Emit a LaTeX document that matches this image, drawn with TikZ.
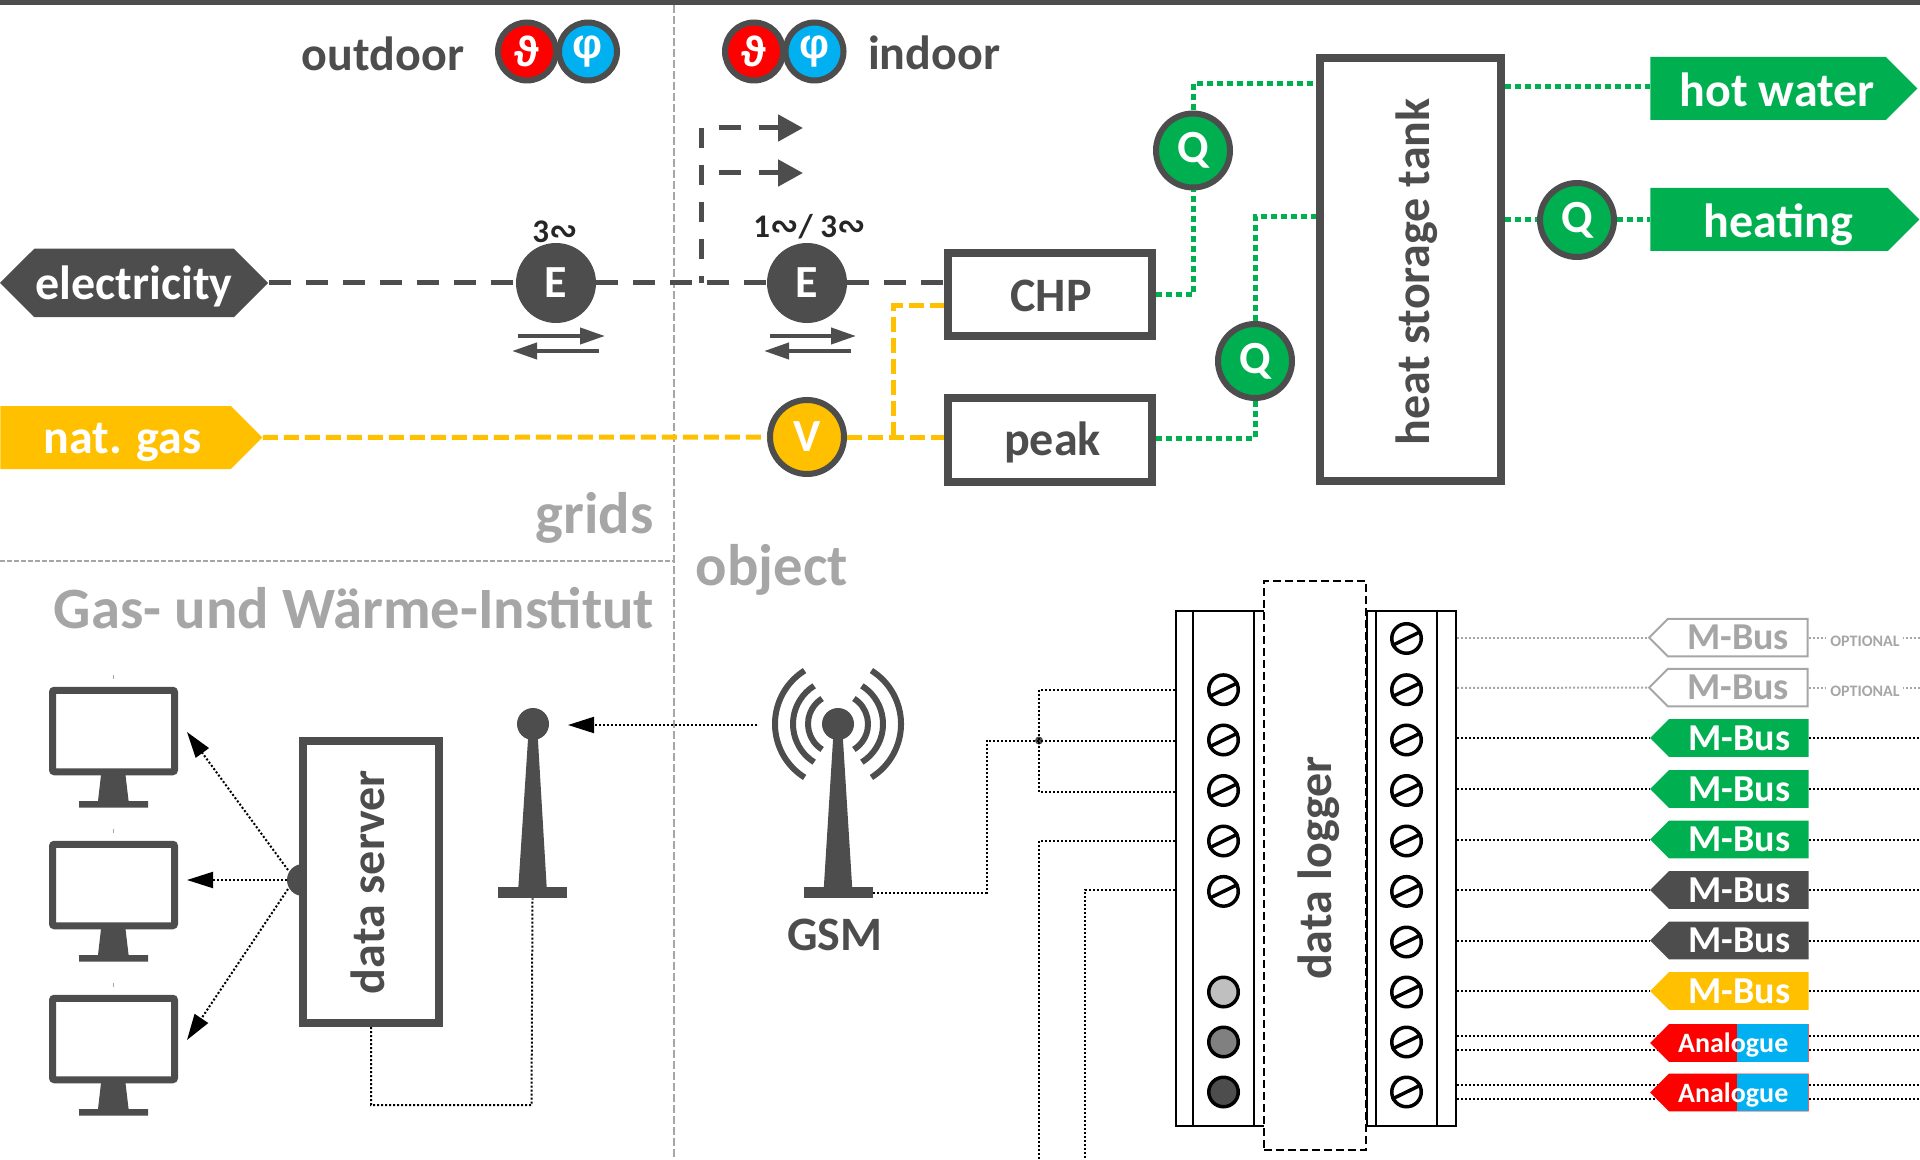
\documentclass[tikz,border=0pt]{standalone}
\usepackage{fontspec}
\setmainfont{Carlito}
\newfontfamily\symfont{DejaVu Sans}
\newfontfamily\greekfont{Liberation Sans}
\usepackage{tikz}
\usetikzlibrary{calc,shapes.geometric,shapes.symbols,arrows.meta,positioning,backgrounds}
\definecolor{cDark}{HTML}{4D4D4D}
\definecolor{cGrey}{HTML}{A6A6A6}
\definecolor{cGreen}{HTML}{00B050}
\definecolor{cYellow}{HTML}{FFC000}
\definecolor{cRed}{HTML}{FF0000}
\definecolor{cBlue}{HTML}{00B0F0}
\newcommand{\phasesign}{{\symfont\fontsize{17}{17}\selectfont ∾}}

\begin{document}
\begin{tikzpicture}[
    x=0.5pt, y=-0.5pt,
    box/.style={rectangle, draw=cDark, line width=4pt, fill=white, inner sep=0pt},
    boxtext/.style={font=\fontsize{24}{24}\selectfont\bfseries, text=cDark, inner sep=0pt},
    head/.style={font=\fontsize{29.3}{29.3}\selectfont\bfseries, text=cGrey, inner sep=0pt},
    phase/.style={font=\fontsize{16.5}{16.5}\selectfont\bfseries, text=black!85, inner sep=0pt},
    meter/.style={circle, draw=cDark, line width=3pt, minimum size=37pt, inner sep=0pt,
                  font=\fontsize{23}{23}\selectfont\bfseries, text=white},
    sensor/.style={circle, draw=cDark, line width=3pt, minimum size=29pt, inner sep=0pt,
                   font=\greekfont\fontsize{21}{21}\selectfont\bfseries, text=white},
    bigtag/.style={signal, signal pointer angle=90, inner sep=0pt, minimum height=31.5pt,
                   text height=19.5pt, text depth=4pt,
                   font=\fontsize{24}{24}\selectfont\bfseries, text=white},
    bustag/.style={signal, signal to=west, signal pointer angle=90, inner sep=0pt, anchor=east,
                   minimum width=79.2pt, minimum height=18.8pt,
                   execute at begin node=\hspace*{0.5pt},
                   font=\fontsize{19}{19}\selectfont\bfseries, text=white},
    anatag/.style={bustag, fill=cRed, font=\fontsize{14}{14}\selectfont\bfseries,
                   text height=9.5pt, text depth=0pt,
                   execute at begin node={}, execute at end node=\hspace*{6.1pt},
                   path picture={\fill[cBlue] (path picture bounding box.north east) rectangle
                                 ([xshift=-36pt]path picture bounding box.south east);}},
    optiontext/.style={font=\fontsize{8}{8}\selectfont\bfseries, text=cGrey, inner sep=0pt},
    screw/.style={circle, draw=black, line width=1.75pt, minimum size=14.75pt, inner sep=0pt},
    strip/.style={rectangle, draw=black, line width=1pt, fill=white, inner sep=0pt,
                  minimum height=257.5pt},
    screen/.style={rectangle, draw=cDark, line width=3.5pt, rounded corners=1pt, fill=white,
                   minimum width=61pt, minimum height=40.75pt, inner sep=0pt},
    wire/.style={black, line width=1pt, dash pattern=on 1pt off 1pt},
    greywire/.style={cGrey, line width=1pt, dash pattern=on 1pt off 1pt},
    heat/.style={cGreen, line width=2.5pt, dash pattern=on 3pt off 2pt},
    gas/.style={cYellow, line width=2.5pt, dash pattern=on 7.5pt off 3pt},
    power/.style={cDark, line width=2.5pt, dash pattern=on 11pt off 7.5pt},
    branch/.style={cDark, line width=2.5pt, dash pattern=on 11pt off 9pt, dash phase=11pt,
                   -{Triangle[length=12.5pt, width=13pt]}},
    flow/.style={cDark, line width=2pt, -{Triangle[length=12.5pt, width=8pt]}},
    signalarrow/.style={wire, -{Triangle[length=13pt, width=8pt]}}
]
\useasboundingbox (0,0) rectangle (1920,1160);

% ================= FRAME =================
\fill[cDark] (0,0) rectangle (1920,5);
\draw[cGrey, line width=1pt, dash pattern=on 4pt off 1.5pt] (673.5,5) -- (673.5,1160);
\draw[cGrey, line width=1pt, dash pattern=on 2.5pt off 1pt] (0,561) -- (673.5,561);

\node[boxtext] (Outdoor) at (383,54) {outdoor};
\node[boxtext] (Indoor) at (934,53) {indoor};
\node[head] (Grids) at (594.5,518) {grids};
\node[head] (Object) at (772,570) {object};
\node[head] (Institut) at (354,608) {Gas- und Wärme-Institut};

% ================= SENSORS =================
\node[sensor, fill=cRed] (TempOut) at (527,51.5) {ϑ};
\node[sensor, fill=cBlue] (HumOut) at (588,51.5) {φ};
\node[sensor, fill=cRed] (TempIn) at (754,51.5) {ϑ};
\node[sensor, fill=cBlue] (HumIn) at (814.5,51.5) {φ};

% ================= GRID SIDE =================
\node[bigtag, signal to=west and east, fill=cDark, minimum width=134pt, minimum height=34.25pt, text depth=3.1pt] (Elec) at (134,283) {electricity};
\node[bigtag, signal to=east, fill=cYellow, minimum width=131pt, anchor=west] (Gas) at (0,437.5) {\hspace*{7pt}nat. gas};

\node[meter, fill=cDark] (MeterA) at (556,283) {E};
\node[meter, fill=cDark] (MeterB) at (807,283) {E};
\node[meter, fill=cYellow] (MeterV) at (807,437) {V};

\node[phase] (PhaseA) at (555,232) {3\phasesign};
\node[phase] (PhaseB) at (809.5,227) {1\phasesign/ 3\phasesign};

% ================= PLANT =================
\node[box, minimum width=101.75pt, minimum height=41.25pt] (CHP) at (1050,294.5) {};
\node[boxtext] (CHPLabel) at (1051,296) {CHP};
\node[box, minimum width=101.75pt, minimum height=42pt] (Peak) at (1050,440) {};
\node[boxtext] (PeakLabel) at (1052.5,442.5) {peak};
\node[box, minimum width=90.5pt, minimum height=211.5pt] (Tank) at (1410.5,269.5) {};
\node[boxtext, rotate=90] (TankLabel) at (1416.5,272) {heat storage tank};

\node[meter, fill=cGreen] (Q1) at (1193,150.5) {Q};
\node[meter, fill=cGreen] (Q2) at (1255,361) {Q};
\node[meter, fill=cGreen] (Q3) at (1577,220) {Q};

\node[bigtag, signal to=east, fill=cGreen, minimum width=133.5pt, anchor=west, text depth=1.6pt] (Water) at (1650,88.5) {\hspace*{9pt}hot water};
\node[bigtag, signal to=east, fill=cGreen, minimum width=134.5pt, anchor=west, text depth=1.6pt] (Heating) at (1650,219.5) {\hspace*{9pt}heating};

% ================= FLOW LINES =================
\coordinate (Tee) at (701,283);
\coordinate (BranchA) at (701,128);
\coordinate (BranchB) at (701,173);
\coordinate (OutA) at (803,128);
\coordinate (OutB) at (803,173);
\coordinate (GasTee) at (893,437);

\draw[power] (Elec.east) -- (MeterA.west);
\draw[power] (MeterA.east) -- (MeterB.west);
\draw[power] (MeterB.east) -- (CHP.west |- MeterB);
\draw[power, dash pattern=on 10pt off 8.5pt] (BranchA) -- (Tee);
\draw[branch] (BranchA) -- (OutA);
\draw[branch] (BranchB) -- (OutB);

\draw[flow] (518,336) -- (605,336);
\draw[flow] (599,351) -- (512,351);
\draw[flow] (770,336) -- (856,336);
\draw[flow] (851,351) -- (764,351);

\draw[gas] (Gas.east) -- (MeterV.west);
\draw[gas] (MeterV.east) -- (Peak.west |- MeterV);
\draw[gas] (GasTee) |- (CHP.west |- 0,305.5);

\draw[heat] (CHP.east) -| (Q1.south);
\draw[heat] (Q1.north) |- (Tank.west |- 0,84);
\draw[heat] ([yshift=1pt]Peak.east) -| (Q2.south);
\draw[heat] (Q2.north) |- (Tank.west |- 0,217);
\draw[heat] (Tank.east |- 0,87) -- (Water.west |- 0,87);
\draw[heat] (Tank.east |- Q3) -- (Q3.west);
\draw[heat] (Q3.east) -- (Heating.west |- Q3);

% ================= DATA SERVER SIDE =================
\foreach \i/\y in {1/731, 2/885, 3/1039} {
    \node[screen] (Screen\i) at (113.5,\y) {};
    \fill[cDark] (101,\y+44) -- (125.5,\y+44) -- (128.6,\y+70) -- (148,\y+70) -- (148,\y+76.5)
                 -- (79,\y+76.5) -- (79,\y+70) -- (98,\y+70) -- cycle;
    \draw[cGrey, line width=0.5pt] (113.5,\y-56) -- (113.5,\y-52);
}

\fill[cDark] (303,880) circle (16);
\node[box, minimum width=68pt, minimum height=141pt] (Server) at (371,882) {};
\node[boxtext, rotate=90] (ServerLabel) at (367.5,882) {data server};

\coordinate (HubA) at (288,870);
\coordinate (HubB) at (287,880);
\coordinate (HubC) at (288,889);
\draw[signalarrow] (HubA) -- (187,732);
\draw[signalarrow] (HubB) -- (187,880);
\draw[signalarrow] (HubC) -- (187,1040);

% receiver mast
\node[circle, fill=cDark, minimum size=16pt, inner sep=0pt] (BallA) at (533,724) {};
\node[rectangle, fill=cDark, minimum width=34.5pt, minimum height=5.5pt, inner sep=0pt] (BaseA) at (532.5,892.5) {};
\fill[cDark] ([xshift=-2pt]BallA.center) -- ([xshift=2pt]BallA.center)
             -- ([xshift=7.25pt]BaseA.center) -- ([xshift=-7.25pt]BaseA.center) -- cycle;
\draw[wire] (Server.south) |- (531.5,1105) -- (BaseA.south);

% GSM mast
\node[circle, fill=cDark, minimum size=16pt, inner sep=0pt] (BallB) at (838,724) {};
\node[rectangle, fill=cDark, minimum width=34.5pt, minimum height=5.5pt, inner sep=0pt] (BaseB) at (838,892.5) {};
\fill[cDark] ([xshift=-2pt]BallB.center) -- ([xshift=2pt]BallB.center)
             -- ([xshift=7.25pt]BaseB.center) -- ([xshift=-7.25pt]BaseB.center) -- cycle;
\foreach \r in {30,45,63} {
    \draw[cDark, line width=3pt] (BallB.center) ++(122:\r) arc[start angle=122, end angle=238, radius=\r];
    \draw[cDark, line width=3pt] (BallB.center) ++(-58:\r) arc[start angle=-58, end angle=58, radius=\r];
}
\node[boxtext] (GSM) at (835,935) {GSM};
\coordinate (GsmOut) at (757,725);
\coordinate (MastIn) at (568,725);
\draw[signalarrow] (GsmOut) -- (MastIn);

% ================= DATA LOGGER =================
\node[strip, minimum width=45pt, anchor=north west] (StripL) at (1175,609.5) {};
\node[strip, minimum width=44.5pt, anchor=north west] (StripR) at (1366,609.5) {};
\draw[black, line width=1pt] ([xshift=9.15pt]StripL.north west) -- ([xshift=9.15pt]StripL.south west);
\draw[black, line width=1pt] ([xshift=39.5pt]StripL.north west) -- ([xshift=39.5pt]StripL.south west);
\draw[black, line width=1pt] ([xshift=5pt]StripR.north west) -- ([xshift=5pt]StripR.south west);
\draw[black, line width=1pt] ([xshift=35.5pt]StripR.north west) -- ([xshift=35.5pt]StripR.south west);

\node[rectangle, draw=black, line width=1pt, dash pattern=on 4pt off 2pt, fill=white,
      minimum width=51pt, minimum height=284.3pt, inner sep=0pt] (Logger) at (1315,865.3) {};
\node[boxtext, rotate=90] (LoggerLabel) at (1319,868) {data logger};

\foreach \i/\y in {1/689.7, 2/740, 3/790.5, 4/841, 5/891.4} {
    \node[screw] (ScrewL\i) at (1223.5,\y) {};
    \draw[black, line width=1.75pt] (ScrewL\i.206) -- (ScrewL\i.26);
}
\node[screw, fill=black!25] (ScrewL6) at (1223.5,992) {};
\node[screw, fill=black!50] (ScrewL7) at (1223.5,1042) {};
\node[screw, fill=cDark] (ScrewL8) at (1223.5,1092) {};
\foreach \i/\y in {1/638.5, 2/689.7, 3/740, 4/790.5, 5/841, 6/891.4, 7/942, 8/992, 9/1042, 10/1092} {
    \node[screw] (ScrewR\i) at (1406.5,\y) {};
    \draw[black, line width=1.75pt] (ScrewR\i.206) -- (ScrewR\i.26);
}

% left side wires
\coordinate (Split) at (1039,740.5);
\coordinate (Floor) at (0,1160);
\fill[cDark] (Split) circle (4);
\draw[wire] (BaseB.east) -| (986.7,740.5) -- (Split) -- (StripL.west |- Split);
\draw[wire] (StripL.west |- 0,689.7) -| (Split);
\draw[wire] (StripL.west |- 0,792) -| (Split);
\draw[wire] (StripL.west |- 0,841) -| (Split |- Floor);
\draw[wire] (StripL.west |- 0,890) -| (1085,1160);

% ================= TAGS =================
\coordinate (Edge) at (1920,0);

\node[bustag, draw=cGrey, line width=1pt, fill=white, text=cGrey] (Opt1) at (1808.5,637.6) {M-Bus};
\node[bustag, draw=cGrey, line width=1pt, fill=white, text=cGrey] (Opt2) at (1808.5,687.6) {M-Bus};
\node[bustag, fill=cGreen] (Bus3) at (1809,738) {M-Bus};
\node[bustag, fill=cGreen] (Bus4) at (1809,789) {M-Bus};
\node[bustag, fill=cGreen] (Bus5) at (1809,839.5) {M-Bus};
\node[bustag, fill=cDark] (Bus6) at (1809,890) {M-Bus};
\node[bustag, fill=cDark] (Bus7) at (1809,940.5) {M-Bus};
\node[bustag, fill=cYellow] (Bus8) at (1809,991) {M-Bus};
\node[anatag] (Ana1) at (1809,1043) {Analogue};
\node[anatag] (Ana2) at (1809,1092.5) {Analogue};

\node[optiontext] (OptText1) at (1865,641) {OPTIONAL};
\node[optiontext] (OptText2) at (1865,691) {OPTIONAL};

\begin{scope}[on background layer]
    \draw[greywire] (StripR.east |- Opt1) -- (Opt1.west);
    \draw[greywire] (1413,688) -- (Opt2.west);
    \foreach \n in {Opt1, Opt2} {
        \draw[greywire] (\n.east) -- ([xshift=8.5pt]\n.east);
        \draw[greywire] (Edge |- \n.east) -- ([xshift=-8.5pt]Edge |- \n.east);
    }
    \foreach \n in {Bus3, Bus4, Bus5, Bus6, Bus7, Bus8} {
        \draw[wire] (StripR.east |- \n) -- (\n.west);
        \draw[wire] (\n.east) -- (Edge |- \n.east);
    }
    \foreach \n in {Ana1, Ana2} {
        \draw[wire] ([yshift=3.75pt]StripR.east |- \n) -- ([yshift=3.75pt]Edge |- \n);
        \draw[wire] ([yshift=-3.25pt]StripR.east |- \n) -- ([yshift=-3.25pt]Edge |- \n);
    }
\end{scope}

\end{tikzpicture}
\end{document}
